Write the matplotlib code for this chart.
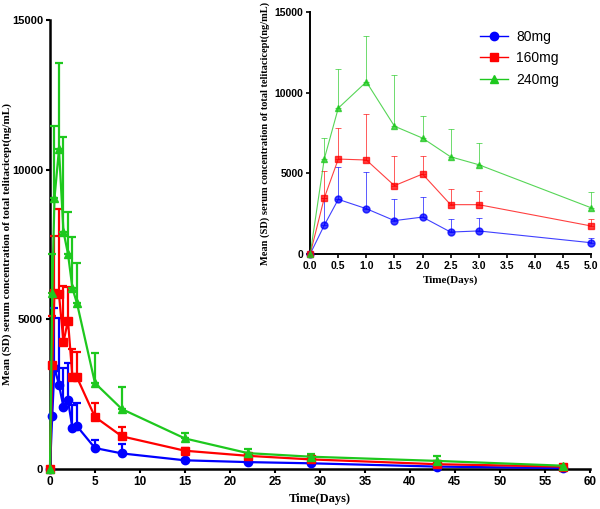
import numpy as np
import matplotlib
matplotlib.use("Agg")
import matplotlib.pyplot as plt
from matplotlib.lines import Line2D

# Sampling times (days)
times = [0, 0.25, 0.5, 1, 1.5, 2, 2.5, 3, 5, 8, 15, 22, 29, 43, 57]

# Mean serum concentration (ng/mL)
mean_80 = [0, 1780, 3390, 2810, 2070, 2290, 1360, 1430, 700, 520, 290, 230, 190, 80, 30]
mean_160 = [0, 3470, 5890, 5830, 4240, 4960, 3060, 3060, 1740, 1090, 610, 440, 320, 160, 80]
mean_240 = [0, 5890, 9050, 10680, 7930, 7190, 6030, 5540, 2870, 2000, 1020, 530, 410, 270, 110]

# Standard deviations
sd_80 = [0, 1700, 1980, 2250, 1320, 1240, 790, 790, 270, 310, 60, 50, 40, 20, 10]
sd_160 = [0, 1650, 1900, 2850, 1860, 1120, 950, 850, 460, 310, 80, 60, 50, 30, 20]
sd_240 = [0, 1280, 2420, 2870, 3160, 1400, 1720, 1340, 990, 740, 190, 130, 100, 150, 40]

labels = ['80mg', '160mg', '240mg']
markers = ['o', 's', '^']
colors = ['#0000ff', '#ff0000', '#1ec81e']
means = [mean_80, mean_160, mean_240]
sds = [sd_80, sd_160, sd_240]

ylabel = 'Mean (SD) serum concentration of total telitacicept(ng/mL)'
serif = 'Liberation Serif'
sans = 'Liberation Sans'

fig = plt.figure(figsize=(6, 5.09), dpi=100)

# main plot
ax = fig.add_axes([0.0833, 0.0786, 0.8997, 0.8821])
for m, s, lab, mk, c in zip(means, sds, labels, markers, colors):
    ax.errorbar(times, m, yerr=[np.zeros(len(s)), s], color=c, marker=mk,
                markersize=6, linewidth=1.6, elinewidth=1.6, capsize=3,
                capthick=1.6, clip_on=False, zorder=3)
ax.set_xlim(0, 60)
ax.set_ylim(0, 15000)
ax.set_xticks(range(0, 61, 5))
ax.set_yticks([0, 5000, 10000, 15000])
ax.spines['top'].set_visible(False)
ax.spines['right'].set_visible(False)
for sp in ['left', 'bottom']:
    ax.spines[sp].set_linewidth(1.8)
ax.tick_params(direction='out', width=1.5, length=3, labelsize=8.5, pad=2)
ax.tick_params(axis='y', labelsize=8)
for t in ax.get_xticklabels() + ax.get_yticklabels():
    t.set_fontfamily(sans)
    t.set_fontweight('bold')
ax.set_xlabel('Time(Days)', fontfamily=serif, fontweight='bold', fontsize=9, labelpad=4)
ax.set_ylabel(ylabel, fontfamily=serif, fontweight='bold', fontsize=8)
ax.yaxis.set_label_coords(-0.071, 0.5)

# inset
ins = fig.add_axes([0.517, 0.501, 0.468, 0.475])
for m, s, lab, mk, c in zip(means, sds, labels, markers, colors):
    n = 9
    ins.errorbar(times[:n], m[:n], yerr=[np.zeros(n), s[:n]], color=c, marker=mk,
                 markersize=5, linewidth=0.8, elinewidth=0.6, capsize=2.5,
                 capthick=0.6, ecolor=c, alpha=0.75, clip_on=False, zorder=3)
ins.set_xlim(0, 5)
ins.set_ylim(0, 15000)
ins.set_xticks(np.arange(0, 5.01, 0.5))
ins.set_yticks([0, 5000, 10000, 15000])
ins.spines['top'].set_visible(False)
ins.spines['right'].set_visible(False)
for sp in ['left', 'bottom']:
    ins.spines[sp].set_linewidth(1.4)
ins.tick_params(direction='out', width=1.2, length=3, labelsize=7.5, pad=2)
for t in ins.get_xticklabels() + ins.get_yticklabels():
    t.set_fontfamily(sans)
    t.set_fontweight('bold')
ins.set_xlabel('Time(Days)', fontfamily=serif, fontweight='bold', fontsize=8, labelpad=3)
ins.set_ylabel(ylabel, fontfamily=serif, fontweight='bold', fontsize=7.5, labelpad=3)

handles = [Line2D([], [], color=c, marker=mk, markersize=6, linewidth=1)
           for c, mk in zip(colors, markers)]
ins.legend(handles, labels, loc='upper left', bbox_to_anchor=(0.56, 0.98), frameon=False,
           prop={'family': sans, 'size': 10}, handlelength=2.0, handletextpad=0.6,
           labelspacing=0.55)

fig.savefig('out.png', dpi=100)
